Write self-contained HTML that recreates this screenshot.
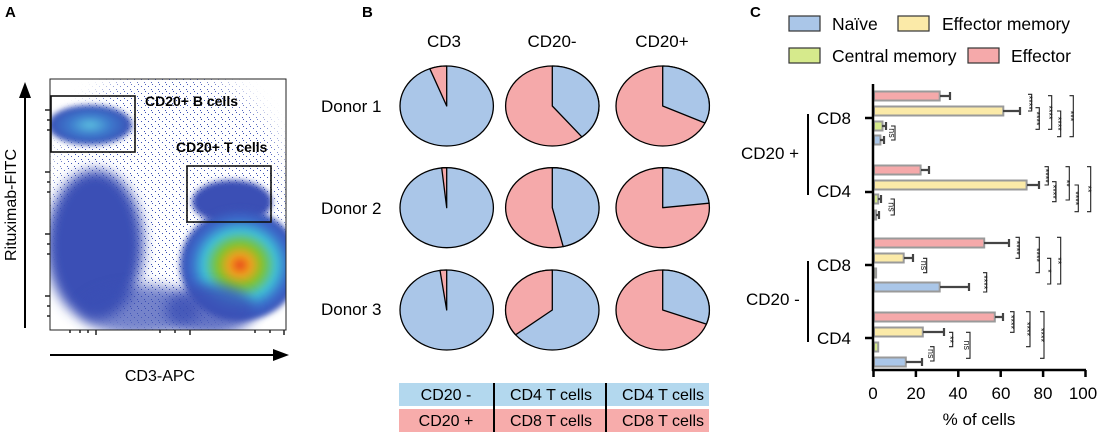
<!DOCTYPE html>
<html><head><meta charset="utf-8"><style>
html,body{margin:0;padding:0;background:#fff;}
svg{display:block;font-family:"Liberation Sans",sans-serif;}
</style></head><body>
<svg width="1100" height="434" viewBox="0 0 1100 434" xmlns="http://www.w3.org/2000/svg">
<defs>
<filter id="b6" x="-50%" y="-50%" width="200%" height="200%"><feGaussianBlur stdDeviation="6"/></filter>
<filter id="b3" x="-50%" y="-50%" width="200%" height="200%"><feGaussianBlur stdDeviation="3"/></filter>
<filter id="b10" x="-50%" y="-50%" width="200%" height="200%"><feGaussianBlur stdDeviation="10"/></filter>
<radialGradient id="hot" cx="0.5" cy="0.5" r="0.5">
<stop offset="0" stop-color="#e8401a"/><stop offset="0.18" stop-color="#f0a020"/><stop offset="0.38" stop-color="#7cc42a"/><stop offset="0.6" stop-color="#3fc0d8"/><stop offset="0.8" stop-color="#3a6ccb"/><stop offset="1" stop-color="#3a4fb5"/>
</radialGradient>
<radialGradient id="bb" cx="0.5" cy="0.5" r="0.5">
<stop offset="0" stop-color="#5cc0e0"/><stop offset="0.5" stop-color="#3c78cc"/><stop offset="1" stop-color="#3a4fb5"/>
</radialGradient>
<pattern id="dots" width="7" height="7" patternUnits="userSpaceOnUse">
<rect x="1" y="2" width="1" height="1" fill="#3a4fb5"/><rect x="4" y="5" width="1" height="1" fill="#3a4fb5"/><rect x="5" y="0" width="1" height="1" fill="#3a4fb5"/>
</pattern>
<mask id="speck">
<rect x="0" y="0" width="300" height="340" fill="#000"/>
<ellipse cx="170" cy="200" rx="120" ry="130" fill="#fff" filter="url(#b10)"/>
</mask>
<clipPath id="pa"><rect x="50" y="79" width="236" height="251"/></clipPath>
</defs>

<!-- Panel A -->
<text x="5" y="17" font-size="15" font-weight="bold">A</text>
<g clip-path="url(#pa)">
<rect x="50" y="79" width="236" height="251" fill="#fff"/>
<rect x="50" y="79" width="236" height="251" fill="url(#dots)" mask="url(#speck)"/>
<ellipse cx="95" cy="245" rx="48" ry="75" fill="#3a4fb5" filter="url(#b6)"/>
<ellipse cx="140" cy="310" rx="60" ry="25" fill="#3a4fb5" opacity="0.7" filter="url(#b6)"/>
<ellipse cx="90" cy="125" rx="42" ry="20" fill="url(#bb)" filter="url(#b3)"/>
<ellipse cx="232" cy="202" rx="40" ry="22" fill="#3a4fb5" filter="url(#b3)"/>
<ellipse cx="240" cy="265" rx="60" ry="56" fill="url(#hot)" filter="url(#b3)"/>
<ellipse cx="210" cy="310" rx="45" ry="25" fill="#3a4fb5" opacity="0.8" filter="url(#b6)"/>
</g>
<rect x="50" y="79" width="236" height="251" fill="none" stroke="#222" stroke-width="1"/>
<g stroke="#222" stroke-width="1.5">
<path d="M45,110H50 M45,172H50 M45,234H50 M45,296H50 M47,120H50 M47,130H50 M47,182H50 M47,192H50 M47,244H50 M47,254H50 M47,306H50 M47,316H50"/>
<path d="M96,330V335 M190,330V335 M284,330V335 M70,330V333 M80,330V333 M88,330V333 M160,330V333 M175,330V333 M255,330V333 M270,330V333"/>
</g>
<rect x="51" y="96" width="84" height="56" fill="none" stroke="#111" stroke-width="1.6"/>
<rect x="187" y="166" width="84" height="56" fill="none" stroke="#111" stroke-width="1.6"/>
<text x="145" y="106" font-size="14" font-weight="bold">CD20+ B cells</text>
<text x="176" y="152" font-size="14" font-weight="bold">CD20+ T cells</text>
<line x1="25" y1="328" x2="25" y2="92" stroke="#000" stroke-width="2"/>
<polygon points="25,82 19,98 31,98" fill="#000"/>
<line x1="50" y1="355" x2="278" y2="355" stroke="#000" stroke-width="2"/>
<polygon points="289,355 273,349 273,361" fill="#000"/>
<text transform="translate(16,205) rotate(-90)" font-size="16" text-anchor="middle">Rituximab-FITC</text>
<text x="160" y="381" font-size="16" text-anchor="middle">CD3-APC</text>

<!-- Panel B -->
<text x="362" y="17" font-size="15" font-weight="bold">B</text>
<g font-size="17" text-anchor="middle">
<text x="444" y="47">CD3</text><text x="552" y="47">CD20-</text><text x="662" y="47">CD20+</text>
</g>
<g font-size="17">
<text x="321" y="112">Donor 1</text><text x="321" y="214">Donor 2</text><text x="321" y="315">Donor 3</text>
</g>
<g stroke="#000" stroke-width="1.3" stroke-linejoin="round">
<ellipse cx="446.7" cy="106" rx="46.7" ry="40" fill="#aac6e8"/>
<path d="M446.7,106 L429.8,68.7 A46.7,40 0 0 1 446.7,66 Z" fill="#f5a9aa"/>
<ellipse cx="552.3" cy="106" rx="46.7" ry="40" fill="#f5a9aa"/>
<path d="M552.3,106 L552.3,66 A46.7,40 0 0 1 581.9,136.9 Z" fill="#aac6e8"/>
<ellipse cx="662.7" cy="106" rx="46.7" ry="40" fill="#f5a9aa"/>
<path d="M662.7,106 L662.7,66 A46.7,40 0 0 1 705,123 Z" fill="#aac6e8"/>

<ellipse cx="446.7" cy="207.7" rx="46.7" ry="40" fill="#aac6e8"/>
<path d="M446.7,207.7 L441.7,167.9 A46.7,40 0 0 1 446.7,167.7 Z" fill="#f5a9aa"/>
<ellipse cx="552.3" cy="207.7" rx="46.7" ry="40" fill="#f5a9aa"/>
<path d="M552.3,207.7 L552.3,167.7 A46.7,40 0 0 1 563.2,246.6 Z" fill="#aac6e8"/>
<ellipse cx="662.7" cy="207.7" rx="46.7" ry="40" fill="#f5a9aa"/>
<path d="M662.7,207.7 L662.7,167.7 A46.7,40 0 0 1 709.1,203.2 Z" fill="#aac6e8"/>

<ellipse cx="446.7" cy="310" rx="46.7" ry="40" fill="#aac6e8"/>
<path d="M446.7,310 L440,270.4 A46.7,40 0 0 1 446.7,270 Z" fill="#f5a9aa"/>
<ellipse cx="552.3" cy="310" rx="46.7" ry="40" fill="#aac6e8"/>
<path d="M552.3,310 L515.6,334.8 A46.7,40 0 0 1 552.3,270 Z" fill="#f5a9aa"/>
<ellipse cx="662.7" cy="310" rx="46.7" ry="40" fill="#f5a9aa"/>
<path d="M662.7,310 L662.7,270 A46.7,40 0 0 1 706.4,324.1 Z" fill="#aac6e8"/>
</g>
<rect x="399" y="383" width="310" height="23" fill="#b3d8ee"/>
<rect x="399" y="409" width="310" height="23" fill="#f7acab"/>
<line x1="494" y1="383" x2="494" y2="432" stroke="#000" stroke-width="2"/>
<line x1="606" y1="383" x2="606" y2="432" stroke="#000" stroke-width="2"/>
<g font-size="16" text-anchor="middle">
<text x="446" y="400">CD20 -</text><text x="551" y="400">CD4 T cells</text><text x="663" y="400">CD4 T cells</text>
<text x="446" y="426">CD20 +</text><text x="551" y="426">CD8 T cells</text><text x="663" y="426">CD8 T cells</text>
</g>

<!-- Panel C -->
<text x="750" y="17" font-size="15" font-weight="bold">C</text>
<g stroke="#333" stroke-width="1.2">
<rect x="789" y="16" width="31" height="15" fill="#aac6e8"/>
<rect x="898" y="16" width="31" height="15" fill="#fbeaa8"/>
<rect x="789" y="48" width="31" height="15" fill="#d6ea8c"/>
<rect x="968" y="48" width="31" height="15" fill="#f5a9aa"/>
</g>
<g font-size="17.5">
<text x="832" y="30">Naïve</text><text x="942" y="30">Effector memory</text>
<text x="832" y="62">Central memory</text><text x="1011" y="62">Effector</text>
</g>

<!-- bars -->
<g stroke="#9a9a9a" stroke-width="2">
<rect x="874" y="91.5" width="65.7" height="9" fill="#f5a9aa"/>
<rect x="874" y="106.5" width="129.3" height="9" fill="#fbeaa8"/>
<rect x="874" y="121.5" width="8.5" height="9" fill="#d6ea8c"/>
<rect x="874" y="135.5" width="6.4" height="9" fill="#aac6e8"/>
<rect x="874" y="165.5" width="46.6" height="9" fill="#f5a9aa"/>
<rect x="874" y="180.5" width="152.6" height="9" fill="#fbeaa8"/>
<rect x="874" y="194.5" width="4.2" height="9" fill="#d6ea8c"/>
<rect x="874" y="210.5" width="2.1" height="9" fill="#aac6e8"/>
<rect x="874" y="238.5" width="110.2" height="9" fill="#f5a9aa"/>
<rect x="874" y="253.5" width="29.7" height="9" fill="#fbeaa8"/>
<rect x="874" y="268.5" width="2.1" height="9" fill="#d6ea8c"/>
<rect x="874" y="282.5" width="65.7" height="9" fill="#aac6e8"/>
<rect x="874" y="312.5" width="120.8" height="9" fill="#f5a9aa"/>
<rect x="874" y="327.5" width="48.8" height="9" fill="#fbeaa8"/>
<rect x="874" y="342.5" width="4.2" height="9" fill="#d6ea8c"/>
<rect x="874" y="357.5" width="31.8" height="9" fill="#aac6e8"/>
</g>
<g stroke="#444" stroke-width="2.2">
<path d="M940,96 H950 M950,92 V100"/>
<path d="M1003,111 H1020 M1020,107 V115"/>
<path d="M882,126 H886 M886,122 V130"/>
<path d="M880,140 H884 M884,136 V144"/>
<path d="M921,170 H929 M929,166 V174"/>
<path d="M1027,185 H1039 M1039,181 V189"/>
<path d="M878,199 H881 M881,195 V203"/>
<path d="M876,215 H879 M879,211 V219"/>
<path d="M984,243 H1009 M1009,239 V247"/>
<path d="M904,258 H913 M913,254 V262"/>
<path d="M940,287 H969 M969,283 V291"/>
<path d="M995,317 H1003 M1003,313 V321"/>
<path d="M923,332 H944 M944,328 V336"/>
<path d="M906,362 H922 M922,358 V366"/>
</g>
<line x1="873" y1="84" x2="873" y2="371" stroke="#000" stroke-width="2.5"/>
<line x1="872" y1="370" x2="1086" y2="370" stroke="#000" stroke-width="2.5"/>
<g stroke="#000" stroke-width="2.5">
<path d="M873.5,370V377 M915.9,370V377 M958.3,370V377 M1000.7,370V377 M1043.1,370V377 M1085.5,370V377"/>
<path d="M865,118H873 M865,192H873 M865,265H873 M865,338H873"/>
</g>
<g font-size="17" text-anchor="middle">
<text x="873" y="399">0</text><text x="916" y="399">20</text><text x="958" y="399">40</text>
<text x="1001" y="399">60</text><text x="1043" y="399">80</text><text x="1083" y="399">100</text>
<text x="979" y="425">% of cells</text>
</g>
<g font-size="17">
<text x="817" y="124">CD8</text><text x="817" y="197">CD4</text>
<text x="817" y="271">CD8</text><text x="817" y="344">CD4</text>
<text x="741" y="159">CD20 +</text><text x="746" y="305">CD20 -</text>
</g>
<line x1="808" y1="114" x2="808" y2="195" stroke="#000" stroke-width="2"/>
<line x1="808" y1="261" x2="808" y2="342" stroke="#000" stroke-width="2"/>

<!-- significance brackets -->
<g stroke="#222" stroke-width="1.1" fill="none">
<path d="M1028,94.3H1031.7V111H1028"/><path d="M1035.5,107.7H1039.3V129.3H1035.5"/>
<path d="M1048,95.7H1051.7V129.3H1048"/><path d="M1057,111H1060.7V136.7H1057"/>
<path d="M1069.5,95.7H1073.3V136.7H1069.5"/><path d="M891,126H895V140H891"/>
<path d="M1044.5,166.7H1048.3V185H1044.5"/><path d="M1052,181.7H1056V201.7H1052"/>
<path d="M1065.5,166.7H1069.3V200H1065.5"/><path d="M1074.5,185H1078.3V211.7H1074.5"/>
<path d="M1087,166.7H1090.7V211.7H1087"/><path d="M890.5,199H894.3V215H890.5"/>
<path d="M1015.5,237.3H1019.3V258.3H1015.5"/><path d="M923,258.3H926.7V272.7H923"/>
<path d="M983,272.7H986.7V292H983"/><path d="M1035.5,237.3H1039.3V272.7H1035.5"/>
<path d="M1047,258.3H1050.7V284H1047"/><path d="M1057,237.3H1060.7V284H1057"/>
<path d="M1010,311.7H1014V332.3H1010"/><path d="M949,332.3H952.7V346.7H949"/>
<path d="M930,346.7H934V361H930"/><path d="M966,332.3H970V358.3H966"/>
<path d="M1026,311.7H1030V346.7H1026"/><path d="M1040,311.7H1044V358.3H1040"/>
</g>
<g font-size="9" text-anchor="middle" fill="#222">
<text transform="translate(1026,102.7) rotate(90)">****</text>
<text transform="translate(1033.5,118.5) rotate(90)">****</text>
<text transform="translate(1046,112.5) rotate(90)">****</text>
<text transform="translate(1055,123.8) rotate(90)">****</text>
<text transform="translate(1067.5,116) rotate(90)">***</text>
<text transform="translate(889,133) rotate(90)">ns</text>
<text transform="translate(1042.5,175.8) rotate(90)">****</text>
<text transform="translate(1050,191.7) rotate(90)">****</text>
<text transform="translate(1063.5,183.3) rotate(90)">**</text>
<text transform="translate(1072.5,198.3) rotate(90)">****</text>
<text transform="translate(1085,189) rotate(90)">**</text>
<text transform="translate(888.5,207) rotate(90)">ns</text>
<text transform="translate(1013.5,247.8) rotate(90)">****</text>
<text transform="translate(921,265.5) rotate(90)">ns</text>
<text transform="translate(981,282.3) rotate(90)">****</text>
<text transform="translate(1033.5,255) rotate(90)">****</text>
<text transform="translate(1045,271) rotate(90)">*</text>
<text transform="translate(1055,260.7) rotate(90)">**</text>
<text transform="translate(1008,322) rotate(90)">****</text>
<text transform="translate(947,339.5) rotate(90)">**</text>
<text transform="translate(928,353.8) rotate(90)">ns</text>
<text transform="translate(964,345.3) rotate(90)">ns</text>
<text transform="translate(1024,329) rotate(90)">****</text>
<text transform="translate(1038,335) rotate(90)">****</text>
</g>
</svg>
</body></html>
